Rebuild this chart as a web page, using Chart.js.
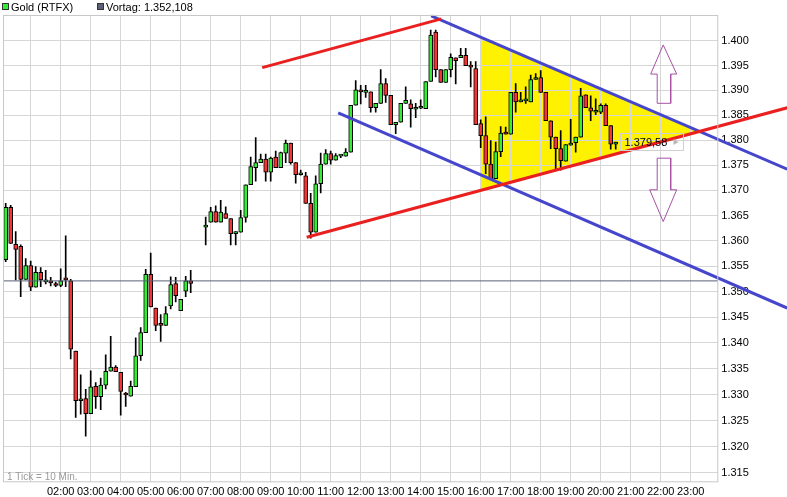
<!DOCTYPE html>
<html lang="de">
<head>
  <meta charset="UTF-8" />
  <title>Gold (RTFX)</title>
  <script src="https://cdn.jsdelivr.net/npm/chart.js"></script>
  <style>
    html, body { margin: 0; padding: 0; background: #fff; }
    canvas { display: block; }
  </style>
</head>
<body>
  <canvas id="chart" width="787" height="497"></canvas>

  <script>
    // 10-Minuten-Kerzen, Zeit in Minuten seit 00:00
    const times = [10, 20, 30, 40, 50, 60, 70, 80, 90, 100, 110, 120, 130, 140, 150, 160, 170, 180, 190, 200,
      210, 220, 230, 240, 250, 260, 270, 280, 290, 300, 310, 320, 330, 340, 350, 360, 370, 380,
      410, 420, 430, 440, 450, 460, 470, 480, 490, 500, 510, 520, 530, 540, 550, 560, 570, 580, 590, 600,
      610, 620, 630, 640, 650, 660, 670, 680, 690, 700, 710, 720, 730, 740, 750, 760, 770, 780, 790, 800,
      810, 820, 830, 840, 850, 860, 870, 880, 890, 900, 910, 920, 930, 940, 950, 960, 970, 980, 990, 1000,
      1010, 1020, 1030, 1040, 1050, 1060, 1070, 1080, 1090, 1100, 1110, 1120, 1130, 1140, 1150, 1160, 1170, 1180,
      1190, 1200, 1210, 1220, 1230];
    const opens = [1356.3, 1366.6, 1359.3, 1358.9, 1352.4, 1355.1, 1350.9, 1353.8, 1351.9, 1352.1, 1351.6, 1351.2, 1352.6, 1352.1, 1338.4, 1328.8, 1329.2, 1326.3, 1331.6, 1329.6,
      1331.8, 1334.5, 1335.3, 1334.3, 1330.0, 1329.7, 1331.5, 1337.5, 1342.0, 1353.4, 1346.8, 1343.5, 1343.4, 1347.2, 1351.6, 1346.3, 1350.1, 1352.1,
      1362.7, 1363.7, 1365.8, 1363.7, 1365.4, 1364.4, 1361.4, 1361.7, 1364.6, 1371.1, 1374.5, 1375.5, 1376.2, 1373.6, 1376.6, 1374.5, 1377.4, 1379.4, 1375.5, 1373.1,
      1372.9, 1367.4, 1361.7, 1371.3, 1375.2, 1377.3, 1376.0, 1376.8, 1376.8, 1377.6, 1387.0, 1390.1, 1389.6, 1389.7, 1386.5, 1387.4, 1391.4, 1389.0, 1383.1, 1383.6,
      1387.4, 1387.3, 1386.2, 1386.4, 1386.3, 1391.8, 1401.8, 1394.2, 1391.6, 1394.2, 1396.6, 1396.6, 1397.1, 1394.8, 1394.4, 1383.3, 1380.9, 1375.2, 1372.3, 1377.7,
      1381.4, 1381.2, 1389.6, 1387.7, 1387.9, 1387.7, 1392.2, 1392.6, 1389.6, 1383.9, 1380.6, 1378.3, 1375.8, 1379.0, 1379.5, 1380.6, 1389.1, 1386.5,
      1385.6, 1385.6, 1387.0, 1382.9, 1379.2];
    const highs = [1367.4, 1367.0, 1361.8, 1359.2, 1356.5, 1356.0, 1354.9, 1354.7, 1354.2, 1352.8, 1351.9, 1354.5, 1361.0, 1352.4, 1338.4, 1333.8, 1331.0, 1334.6, 1332.3, 1333.2,
      1337.7, 1341.3, 1335.6, 1334.3, 1330.4, 1332.6, 1341.0, 1343.0, 1354.4, 1357.6, 1346.8, 1345.5, 1347.1, 1352.9, 1352.8, 1348.5, 1353.0, 1354.2,
      1364.7, 1366.6, 1366.9, 1368.0, 1366.7, 1364.4, 1361.8, 1366.0, 1371.1, 1376.6, 1380.5, 1377.2, 1377.2, 1376.6, 1377.8, 1377.6, 1380.0, 1379.4, 1375.5, 1374.0,
      1373.6, 1369.4, 1372.9, 1377.4, 1378.1, 1377.8, 1377.3, 1377.0, 1378.3, 1387.0, 1392.0, 1391.0, 1391.0, 1389.7, 1387.4, 1394.2, 1392.4, 1389.0, 1383.6, 1387.4,
      1390.7, 1388.1, 1387.4, 1388.1, 1391.8, 1402.2, 1402.2, 1394.2, 1394.2, 1397.4, 1396.6, 1398.5, 1398.5, 1395.8, 1395.8, 1384.1, 1384.7, 1379.9, 1379.6, 1382.7,
      1382.6, 1389.6, 1391.4, 1389.6, 1390.7, 1393.1, 1393.4, 1394.0, 1389.6, 1383.9, 1380.6, 1381.9, 1379.1, 1384.2, 1380.6, 1390.4, 1389.1, 1388.9,
      1388.3, 1387.3, 1387.3, 1382.9, 1379.6];
    const lows = [1355.9, 1359.5, 1352.3, 1349.0, 1352.4, 1350.2, 1350.9, 1351.0, 1351.5, 1351.1, 1351.0, 1351.0, 1351.0, 1336.9, 1325.6, 1326.2, 1322.0, 1326.3, 1327.3, 1327.1,
      1331.1, 1334.5, 1334.4, 1326.0, 1327.7, 1329.7, 1331.5, 1336.6, 1342.0, 1347.0, 1342.4, 1340.3, 1343.4, 1346.6, 1348.0, 1346.3, 1349.0, 1349.8,
      1359.2, 1363.7, 1363.7, 1363.7, 1364.4, 1359.2, 1359.2, 1361.7, 1363.7, 1371.1, 1371.8, 1375.5, 1371.8, 1371.8, 1374.5, 1374.5, 1375.5, 1375.2, 1371.4, 1373.0,
      1367.4, 1360.5, 1361.7, 1369.5, 1375.2, 1375.2, 1376.0, 1376.5, 1376.8, 1377.6, 1387.0, 1387.3, 1388.6, 1385.6, 1385.6, 1387.4, 1387.6, 1383.1, 1381.3, 1383.6,
      1387.4, 1382.6, 1384.5, 1386.3, 1386.3, 1391.8, 1392.7, 1391.6, 1391.6, 1392.7, 1391.3, 1396.6, 1395.0, 1390.7, 1383.1, 1378.5, 1373.3, 1372.3, 1372.3, 1376.7,
      1381.2, 1381.2, 1385.6, 1387.7, 1387.4, 1387.7, 1392.2, 1389.6, 1383.9, 1378.3, 1374.2, 1374.0, 1375.8, 1379.0, 1377.6, 1380.6, 1386.5, 1383.9,
      1385.1, 1385.3, 1382.9, 1378.2, 1378.2];
    const closes = [1366.6, 1359.5, 1358.3, 1352.4, 1355.1, 1350.9, 1353.8, 1352.3, 1352.3, 1351.7, 1351.2, 1352.1, 1352.3, 1338.8, 1328.8, 1329.0, 1326.3, 1331.5, 1329.6, 1331.8,
      1334.5, 1335.3, 1334.4, 1330.6, 1329.9, 1331.6, 1337.5, 1342.0, 1353.4, 1347.0, 1343.4, 1343.4, 1345.7, 1351.4, 1349.2, 1348.5, 1352.1, 1351.6,
      1363.0, 1365.8, 1363.7, 1365.7, 1364.4, 1361.4, 1361.8, 1364.6, 1371.1, 1374.7, 1375.5, 1376.2, 1373.6, 1376.4, 1374.5, 1377.5, 1379.4, 1375.5, 1373.1, 1373.1,
      1367.4, 1361.7, 1371.3, 1375.2, 1377.3, 1376.0, 1376.9, 1376.9, 1377.6, 1387.0, 1390.1, 1389.7, 1389.9, 1386.5, 1387.4, 1391.4, 1389.0, 1383.1, 1383.6, 1387.4,
      1388.0, 1386.3, 1386.6, 1386.5, 1391.8, 1401.2, 1394.2, 1391.6, 1394.2, 1396.7, 1396.0, 1397.1, 1395.0, 1394.7, 1383.1, 1380.9, 1375.2, 1372.3, 1377.7, 1381.4,
      1381.2, 1389.6, 1387.7, 1387.9, 1387.9, 1392.2, 1392.6, 1389.6, 1383.9, 1380.6, 1378.3, 1375.9, 1379.1, 1379.1, 1380.6, 1388.9, 1386.5, 1385.8,
      1385.6, 1387.0, 1382.9, 1379.2, 1379.58];

    const vortag = 1352.108;
    const yTicks = [1315, 1320, 1325, 1330, 1335, 1340, 1345, 1350, 1355, 1360, 1365, 1370, 1375, 1380, 1385, 1390, 1395, 1400];
    const xTickHours = [1, 2, 3, 4, 5, 6, 7, 8, 9, 10, 11, 12, 13, 14, 15, 16, 17, 18, 19, 20, 21, 22, 23];

    // Trendlinien: [Start, Ende] als Zeit (Min.) und Kurs
    const redUpperT = [523, 881];     const redUpperP = [1394.6, 1404.5];
    const redLowerT = [612, 1573];    const redLowerP = [1360.7, 1386.5];
    const blueUpperT = [861, 1573];   const blueUpperP = [1405.1, 1374.2];
    const blueLowerT = [675, 1573];   const blueLowerP = [1385.5, 1346.8];
    // gelbes Dreieck
    const triT = [960, 1398, 960];
    const triP = [1400.7, 1381.8, 1370.0];
    // Pfeile (Umriss)
    const arrowUpT = [1325, 1352, 1340, 1340, 1313, 1313, 1300, 1325];
    const arrowUpP = [1399.2, 1393.3, 1393.3, 1387.4, 1387.4, 1393.3, 1393.3, 1399.2];
    const arrowDownT = [1313, 1340, 1340, 1352, 1325, 1298, 1313, 1313];
    const arrowDownP = [1376.4, 1376.4, 1370.1, 1370.1, 1363.8, 1370.1, 1370.1, 1376.4];

    const X_MIN = 4.6, X_MAX = 1435.2;
    const FONT = "'Liberation Sans', Arial, sans-serif";
    const GREEN = '#33ee33', RED = '#f23434';

    const pts = (ts, ps) => ts.map((t, i) => ({ x: t, y: ps[i] }));
    const fmtDe = (v, d) => {
      const [a, b] = v.toFixed(d).split('.');
      return a.replace(/\B(?=(\d{3})+(?!\d))/g, '.') + ',' + b;
    };

    const trendLine = (ts, ps, color) => ({
      type: 'line', data: pts(ts, ps), borderColor: color, borderWidth: 3,
      pointRadius: 0, clip: false, order: 1
    });
    const arrowLine = (ts, ps) => ({
      type: 'line', data: pts(ts, ps), borderColor: '#a652a6', borderWidth: 1,
      pointRadius: 0, tension: 0, order: 0
    });

    const framePlugin = {
      id: 'frame',
      beforeDraw(chart) {
        const { ctx, scales: { x, y } } = chart;
        ctx.save();
        ctx.fillStyle = '#fff';
        ctx.fillRect(0, 0, chart.width, chart.height);
        ctx.beginPath();
        triT.forEach((t, i) => {
          const px = x.getPixelForValue(t), py = y.getPixelForValue(triP[i]);
          i ? ctx.lineTo(px, py) : ctx.moveTo(px, py);
        });
        ctx.closePath();
        ctx.fillStyle = '#fff200';
        ctx.fill();
        ctx.restore();
      },
      afterDraw(chart) {
        const { ctx, chartArea: a, scales: { x, y } } = chart;
        ctx.save();
        ctx.strokeStyle = '#c8c8c8';
        ctx.lineWidth = 1;
        ctx.strokeRect(a.left + 0.5, a.top + 0.5, a.right - a.left - 1, a.bottom - a.top - 1);

        // Legende
        ctx.font = '11px ' + FONT;
        ctx.textBaseline = 'alphabetic';
        ctx.fillStyle = GREEN; ctx.fillRect(2, 3, 7, 7);
        ctx.strokeStyle = '#333'; ctx.strokeRect(2.5, 3.5, 6, 6);
        ctx.fillStyle = '#000'; ctx.fillText('Gold (RTFX)', 11, 10.5);
        ctx.fillStyle = '#5a6078'; ctx.fillRect(97, 3, 7, 7);
        ctx.strokeRect(97.5, 3.5, 6, 6);
        ctx.fillStyle = '#000'; ctx.fillText('Vortag: ' + fmtDe(vortag, 3), 106, 10.5);

        ctx.font = '10px ' + FONT;
        ctx.fillStyle = '#9a9a9a';
        ctx.fillText('1 Tick = 10 Min.', 7, 480);

        // Kurs-Etikett
        const last = closes.length - 1;
        const lx = Math.round(x.getPixelForValue(times[last])) + 4.5;
        const ly = Math.round(y.getPixelForValue(closes[last]));
        ctx.strokeStyle = '#d0d0d0';
        ctx.strokeRect(lx, ly - 8.5, 63, 17);
        ctx.font = '11px ' + FONT;
        ctx.fillStyle = '#000';
        ctx.textBaseline = 'middle';
        ctx.fillText(fmtDe(closes[last], 2), lx + 4, ly + 1);
        ctx.fillStyle = '#b8b8b8';
        ctx.beginPath();
        ctx.moveTo(lx + 53, ly - 3); ctx.lineTo(lx + 58, ly); ctx.lineTo(lx + 53, ly + 3);
        ctx.closePath(); ctx.fill();
        ctx.restore();
      }
    };

    new Chart(document.getElementById('chart'), {
      type: 'bar',
      data: {
        datasets: [
          arrowLine(arrowUpT, arrowUpP),
          arrowLine(arrowDownT, arrowDownP),
          trendLine(redUpperT, redUpperP, '#ea2020'),
          trendLine(redLowerT, redLowerP, '#ea2020'),
          trendLine(blueUpperT, blueUpperP, '#4646cc'),
          trendLine(blueLowerT, blueLowerP, '#4646cc'),
          {
            type: 'line', data: pts([X_MIN, X_MAX], [vortag, vortag]),
            borderColor: '#5a6078', borderWidth: 1, pointRadius: 0, order: 2
          },
          {
            data: times.map((t, i) => ({ x: t, y: [opens[i], closes[i]] })),
            backgroundColor: c => closes[c.dataIndex] >= opens[c.dataIndex] ? GREEN : RED,
            borderColor: '#000', borderWidth: 1, borderSkipped: false,
            barThickness: 4, minBarLength: 2, grouped: false, order: 3
          },
          {
            data: times.map((t, i) => ({ x: t, y: [lows[i], highs[i]] })),
            backgroundColor: '#000', borderWidth: 0,
            barThickness: 1, grouped: false, order: 4
          }
        ]
      },
      options: {
        responsive: false,
        animation: false,
        layout: { padding: { left: 3, top: 15, right: 0, bottom: 0 } },
        plugins: { legend: { display: false }, tooltip: { enabled: false } },
        scales: {
          x: {
            type: 'linear', min: X_MIN, max: X_MAX, offset: false,
            afterBuildTicks: s => { s.ticks = xTickHours.map(h => ({ value: h * 60 })); },
            afterFit: s => { s.height = 14.7; },
            grid: { color: '#d6d6d6', drawTicks: false, offset: false },
            border: { display: false },
            ticks: {
              autoSkip: false, maxRotation: 0, padding: 3, color: '#000',
              font: { family: FONT, size: 11 },
              callback: v => v >= 120 ? String(v / 60).padStart(2, '0') + ':00' : ''
            }
          },
          y: {
            type: 'logarithmic', position: 'right', min: 1313.17, max: 1405.29,
            afterBuildTicks: s => { s.ticks = yTicks.map(v => ({ value: v })); },
            afterFit: s => { s.width = 68.7; },
            grid: { color: '#d6d6d6', drawTicks: false },
            border: { display: false },
            ticks: {
              padding: 3, color: '#000',
              font: { family: FONT, size: 11 },
              callback: v => (v / 1000).toFixed(3)
            }
          }
        }
      },
      plugins: [framePlugin]
    });
  </script>
</body>
</html>
